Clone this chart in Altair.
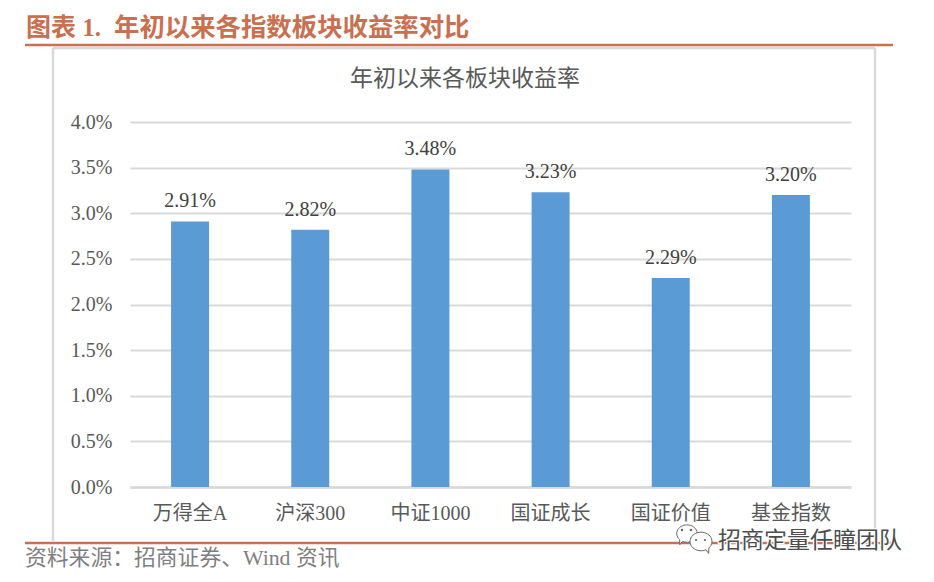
import altair as alt
import pandas as pd

categories = ["万得全A", "沪深300", "中证1000", "国证成长", "国证价值", "基金指数"]
returns = [2.91, 2.82, 3.48, 3.23, 2.29, 3.20]
y_ticks = [0, 0.5, 1, 1.5, 2, 2.5, 3, 3.5, 4]
heading_no = "图表 1."
heading = "年初以来各指数板块收益率对比"
chart_title = "年初以来各板块收益率"
source = "资料来源：招商证券、Wind 资讯"
watermark = "招商定量任瞳团队"

FONT = "Liberation Serif, Noto Sans CJK SC"
GREY = "#595959"
GRID = "#d9d9d9"
ACCENT = "#c8704f"
BUBBLE = "M -1 -0.1 A 1 0.85 0 1 1 -0.45 0.62 L -0.7 0.95 L -0.72 0.45 A 1 0.85 0 0 1 -1 -0.1 Z"
BUBBLE_R = "M 1 -0.1 A 1 0.85 0 1 0 0.45 0.62 L 0.7 0.95 L 0.72 0.45 A 1 0.85 0 0 0 1 -0.1 Z"

df = pd.DataFrame({"cat": categories, "val": returns})
df["label"] = [f"{v:.2f}%" for v in returns]

x = alt.X("cat:N", sort=categories, scale=alt.Scale(paddingInner=0, paddingOuter=0),
          axis=alt.Axis(title=None, labelAngle=0, labelFont=FONT, labelFontSize=20, labelColor=GREY,
                        labelPadding=16, ticks=False, domain=True, domainColor=GRID, domainWidth=2.5, grid=False))
y = alt.Y("val:Q", scale=alt.Scale(domain=[0, 4], nice=False),
          axis=alt.Axis(title=None, values=y_ticks, labelExpr="format(datum.value, '.1f') + '%'",
                        labelFont=FONT, labelFontSize=20, labelColor=GREY, labelPadding=18,
                        ticks=False, domain=False, grid=True, gridColor=GRID, gridWidth=2))

bars = alt.Chart(df).mark_bar(size=38, color="#5b9bd5").encode(x=x, y=y)
labels = alt.Chart(df).mark_text(dy=-10, font=FONT, fontSize=20, color="#404040", baseline="bottom").encode(
    x=alt.X("cat:N", sort=categories), y="val:Q", text="label:N")

one = pd.DataFrame({"a": [0]})

def txt(s, px, py, size, color, align="left", font=FONT, weight="normal", **kw):
    return alt.Chart(one).mark_text(text=s, font=font, fontSize=size, color=color, align=align,
                                    baseline="middle", fontWeight=weight, **kw).encode(x=alt.value(px), y=alt.value(py))

def hline(x0, x1, py, color, w):
    return alt.Chart(one).mark_rule(color=color, strokeWidth=w).encode(
        x=alt.value(x0), x2=alt.value(x1), y=alt.value(py))

def vline(px, y0, y1, color, w):
    return alt.Chart(one).mark_rule(color=color, strokeWidth=w).encode(
        x=alt.value(px), y=alt.value(y0), y2=alt.value(y1))

def glyph(shape, px, py, size, **kw):
    return alt.Chart(one).mark_point(shape=shape, size=size, **kw).encode(x=alt.value(px), y=alt.value(py))

# offsets: plot origin is page (130, 122)
OX, OY = 130, 122
frame = [
    hline(53 - OX, 875 - OX, 48 - OY, GRID, 2.5),
    vline(53 - OX, 48 - OY, 541 - OY, GRID, 2.5),
    vline(875 - OX, 48 - OY, 541 - OY, GRID, 2.5),
]
deco = [
    hline(25 - OX, 893 - OX, 45 - OY, ACCENT, 2.5),
    hline(25 - OX, 893 - OX, 543 - OY, ACCENT, 2.5),
    txt(heading_no, 26 - OX, 28 - OY, 25, ACCENT, weight="bold"),
    txt(heading, 114 - OX, 28 - OY, 25.4, ACCENT, weight="bold"),
    txt(chart_title, 465 - OX, 79 - OY, 23, GREY, align="center"),
    txt(source, 25 - OX, 558 - OY, 21.8, "#7f7f7f"),
]
icon = [
    glyph(BUBBLE, 687 - OX, 535 - OY, 420, filled=True, fill="white", stroke="#666666", strokeWidth=1, opacity=1),
    glyph(BUBBLE_R, 701 - OX, 543 - OY, 480, filled=True, fill="white", stroke="#666666", strokeWidth=1, opacity=1),
    glyph("circle", 682 - OX, 530 - OY, 6, filled=True, color="#666666", opacity=1),
    glyph("circle", 691 - OX, 530 - OY, 6, filled=True, color="#666666", opacity=1),
    glyph("circle", 696 - OX, 540 - OY, 5, filled=True, color="#666666", opacity=1),
    glyph("circle", 705 - OX, 540 - OY, 5, filled=True, color="#666666", opacity=1),
]
mark = [
    txt(watermark, 718 - OX, 541 - OY, 23, "white", stroke="white", strokeWidth=2.5),
    txt(watermark, 718 - OX, 541 - OY, 23, "#4d4d4d"),
]

chart = alt.layer(*frame, *deco, *icon, *mark, bars, labels).properties(
    width=721, height=365,
    padding={"left": 122, "top": 114, "right": 75, "bottom": 87},
    autosize=alt.AutoSizeParams(type="none"),
    background="white",
).configure_view(stroke=None)

chart.save("out.html", embed_options={"renderer": "svg", "actions": False})
